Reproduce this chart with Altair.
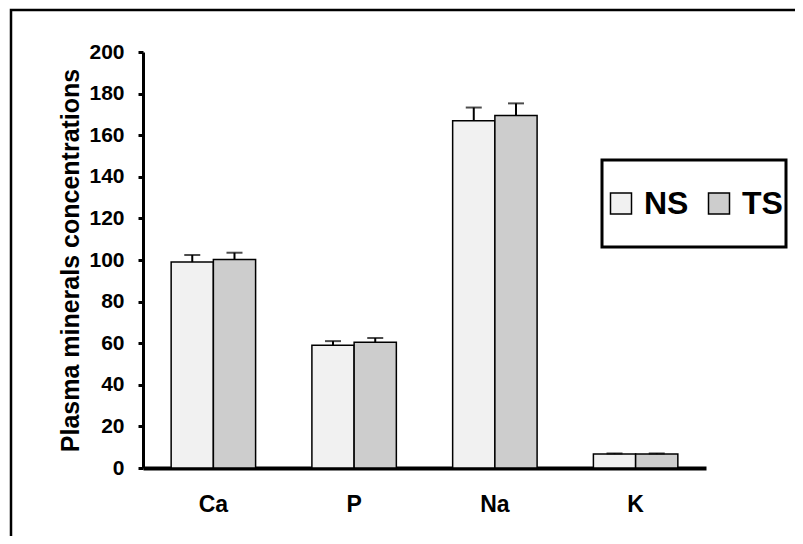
import altair as alt
import pandas as pd

categories = ["Ca", "P", "Na", "K"]
groups = ["NS", "TS"]
ns_values = [99, 59, 167, 6.7]
ns_errors = [3.4, 2.0, 6.3, 0.3]
ts_values = [100.2, 60.5, 169.5, 6.7]
ts_errors = [3.3, 2.0, 5.8, 0.3]
y_ticks = [0, 20, 40, 60, 80, 100, 120, 140, 160, 180, 200]

rows = []
for i, c in enumerate(categories):
    rows.append({"cat": c, "grp": "NS", "val": ns_values[i], "up": ns_values[i] + ns_errors[i]})
    rows.append({"cat": c, "grp": "TS", "val": ts_values[i], "up": ts_values[i] + ts_errors[i]})
df = pd.DataFrame(rows)

FONT = "Liberation Sans"
W, H = 563, 416

xenc = alt.X("cat:N", sort=categories, title=None,
             scale=alt.Scale(paddingInner=0.4, paddingOuter=0.2),
             axis=alt.Axis(labelAngle=0, ticks=False, domainWidth=4, domainColor="black",
                           labelFont=FONT, labelFontSize=23, labelFontWeight="bold",
                           labelColor="black", labelPadding=25))
xoff = alt.XOffset("grp:N", sort=groups, scale=alt.Scale(paddingInner=0, paddingOuter=0))
yscale = alt.Scale(domain=[0, 200], nice=False)

bars = alt.Chart(df).mark_bar(stroke="black", strokeWidth=1.5).encode(
    x=xenc,
    xOffset=xoff,
    y=alt.Y("val:Q", scale=yscale, title="Plasma minerals concentrations",
            axis=alt.Axis(values=y_ticks, grid=False, tickSize=5, tickWidth=3, tickColor="black",
                          domainWidth=3, domainColor="black",
                          labelFont=FONT, labelFontSize=21, labelFontWeight="bold",
                          labelColor="black", labelPadding=14,
                          titleFont=FONT, titleFontSize=25, titleFontWeight="bold",
                          titleColor="black", titlePadding=5)),
    fill=alt.Fill("grp:N", sort=groups,
                  scale=alt.Scale(domain=groups, range=["#f1f1f1", "#cdcdcd"]),
                  legend=alt.Legend(title=None, orient="none", legendX=459, legendY=108,
                                    direction="horizontal", symbolType="square",
                                    symbolSize=441, symbolStrokeColor="black",
                                    symbolStrokeWidth=1.5, symbolOpacity=1,
                                    labelFont=FONT, labelFontSize=32, labelFontWeight="bold",
                                    labelColor="black", labelOffset=7, columnPadding=14,
                                    padding=3, clipHeight=81,
                                    fillColor="white", strokeColor="black")),
)

err = alt.Chart(df).mark_rule(color="black", strokeWidth=2).encode(
    x=alt.X("cat:N", sort=categories),
    xOffset=xoff,
    y=alt.Y("val:Q", scale=yscale),
    y2="up:Q",
)

caps = alt.Chart(df).mark_tick(color="black", thickness=2, size=16, orient="horizontal").encode(
    x=alt.X("cat:N", sort=categories),
    xOffset=xoff,
    y=alt.Y("up:Q", scale=yscale),
)

frame = alt.Chart(pd.DataFrame({"f": [0]})).mark_rect(
    fill="transparent", stroke="black", strokeWidth=2.5
).encode(
    x=alt.value(-132), x2=alt.value(700), y=alt.value(-42), y2=alt.value(540)
)

chart = alt.layer(frame, bars, err, caps).properties(
    width=W, height=H,
    autosize=alt.AutoSizeParams(type="none"),
    padding={"left": 135, "top": 44, "right": 89, "bottom": 68},
).configure_view(stroke=None).configure_legend(strokeWidth=3)

chart.save("out.html", embed_options={"renderer": "svg", "actions": False})
